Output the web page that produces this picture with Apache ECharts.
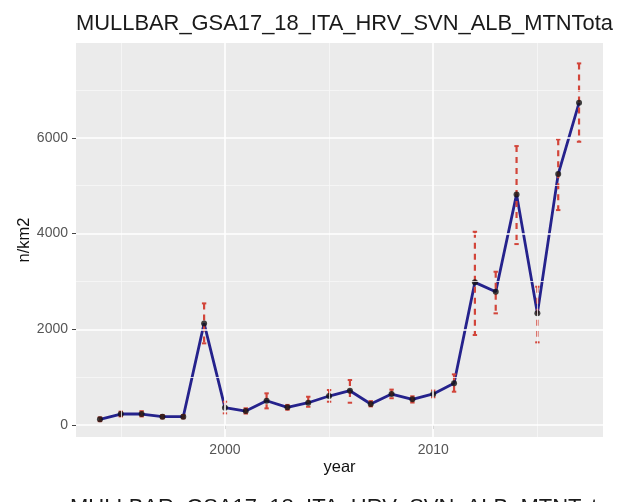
<!DOCTYPE html>
<html>
<head>
<meta charset="utf-8">
<script src="https://cdn.jsdelivr.net/npm/echarts@6/dist/echarts.min.js"></script>
<style>
  html, body { margin: 0; padding: 0; background: #ffffff; }
  #chart { width: 618px; height: 502px; }
</style>
</head>
<body>
<div id="chart"></div>
<script>
// Mullus barbatus density index (n/km2) per survey year, GSA 17-18
const years = [1994, 1995, 1996, 1997, 1998, 1999, 2000, 2001, 2002, 2003, 2004, 2005,
               2006, 2007, 2008, 2009, 2010, 2011, 2012, 2013, 2014, 2015, 2016, 2017];
const density = [120, 230, 230, 174, 174, 2123, 362, 292, 508, 369, 466, 606,
                 717, 439, 647, 536, 650, 871, 2980, 2784, 4818, 2333, 5242, 6731];
const lower = [80, 180, 180, 140, 140, 1706, 244, 240, 348, 320, 382, 487,
               466, 390, 560, 470, 580, 696, 1880, 2333, 3780, 1727, 4490, 5917];
const upper = [160, 280, 290, 210, 210, 2541, 487, 350, 662, 420, 591, 731,
               940, 500, 740, 600, 720, 1058, 4037, 3202, 5827, 2889, 5967, 7554];

const xTicks = [2000, 2010];
const xMinorGrid = [1995, 2005, 2015];
const yTicks = [0, 2000, 4000, 6000];
const yMinorGrid = [1000, 3000, 5000, 7000];

const chartTitle = 'MULLBAR_GSA17_18_ITA_HRV_SVN_ALB_MTNTota';
const captionText = 'MULLBAR_GSA17_18_ITA_HRV_SVN_ALB_MTNTota';

const points = years.map((y, i) => [y, density[i]]);
const bars = years.map((y, i) => [y, lower[i], upper[i]]);

const gridLines = [];
xMinorGrid.forEach(v => gridLines.push({ xAxis: v, lineStyle: { color: '#f7f7f7', width: 0.8, type: 'solid' } }));
yMinorGrid.forEach(v => gridLines.push({ yAxis: v, lineStyle: { color: '#f7f7f7', width: 0.8, type: 'solid' } }));
xTicks.forEach(v => gridLines.push({ xAxis: v, lineStyle: { color: '#ffffff', width: 1.6, type: 'solid' } }));
yTicks.forEach(v => gridLines.push({ yAxis: v, lineStyle: { color: '#ffffff', width: 1.6, type: 'solid' } }));

const barColor = '#d2453a';

const chart = echarts.init(document.getElementById('chart'), null, { renderer: 'canvas' });

chart.setOption({
  animation: false,
  backgroundColor: '#ffffff',
  textStyle: { fontFamily: 'Liberation Sans, Arial, sans-serif' },
  title: [
    {
      text: chartTitle,
      left: 76, top: 13, padding: 0,
      textStyle: { fontSize: 21.9, fontWeight: 'normal', color: '#1a1a1a', fontFamily: 'Liberation Sans, Arial, sans-serif' }
    },
    {
      text: captionText,
      left: 70, top: 497, padding: 0,
      textStyle: { fontSize: 22, fontWeight: 'normal', color: '#1a1a1a', fontFamily: 'Liberation Sans, Arial, sans-serif' }
    }
  ],
  grid: {
    left: 76, top: 43, width: 527, height: 394,
    show: true, backgroundColor: '#ebebeb', borderWidth: 0
  },
  xAxis: {
    type: 'value',
    min: 1992.85, max: 2018.15,
    name: 'year', nameLocation: 'middle', nameGap: 22,
    nameMoveOverlap: false,
    nameTextStyle: { fontSize: 16.5, color: '#111111' },
    axisLine: { show: false },
    axisTick: { show: true, length: 4, lineStyle: { color: '#444444', width: 1 }, customValues: xTicks },
    axisLabel: { fontSize: 14, color: '#555555', margin: 6, customValues: xTicks, formatter: v => String(v) },
    splitLine: { show: false }
  },
  yAxis: {
    type: 'value',
    min: -250, max: 7980,
    name: 'n/km2', nameLocation: 'middle', nameGap: 43,
    nameMoveOverlap: false,
    nameTextStyle: { fontSize: 16.5, color: '#111111' },
    axisLine: { show: false },
    axisTick: { show: true, length: 4, lineStyle: { color: '#444444', width: 1 }, customValues: yTicks },
    axisLabel: { fontSize: 14, color: '#555555', margin: 8, customValues: yTicks, formatter: v => String(v) },
    splitLine: { show: false }
  },
  series: [
    {
      // panel grid lines
      type: 'line',
      data: points,
      symbol: 'none',
      lineStyle: { opacity: 0 },
      silent: true,
      z: 1,
      markLine: {
        silent: true,
        symbol: 'none',
        label: { show: false },
        animation: false,
        data: gridLines
      }
    },
    {
      type: 'line',
      data: points,
      symbol: 'none',
      lineStyle: { color: '#25228c', width: 2.8 },
      z: 2
    },
    {
      type: 'custom',
      data: bars,
      z: 3,
      renderItem: function (params, api) {
        const x = api.value(0);
        const top = api.coord([x, api.value(2)]);
        const bot = api.coord([x, api.value(1)]);
        const w = 2.2;
        const style = { stroke: barColor, lineWidth: 2.2, lineDash: [6, 5], fill: null };
        const capStyle = { stroke: barColor, lineWidth: 2, fill: null };
        return {
          type: 'group',
          children: [
            { type: 'line', shape: { x1: top[0], y1: top[1], x2: bot[0], y2: bot[1] }, style: style },
            { type: 'line', shape: { x1: top[0] - w, y1: top[1], x2: top[0] + w, y2: top[1] }, style: capStyle },
            { type: 'line', shape: { x1: bot[0] - w, y1: bot[1], x2: bot[0] + w, y2: bot[1] }, style: capStyle }
          ]
        };
      }
    },
    {
      type: 'scatter',
      data: points,
      symbol: 'circle',
      symbolSize: 6,
      itemStyle: { color: '#141414' },
      z: 4
    }
  ]
});
</script>
</body>
</html>
